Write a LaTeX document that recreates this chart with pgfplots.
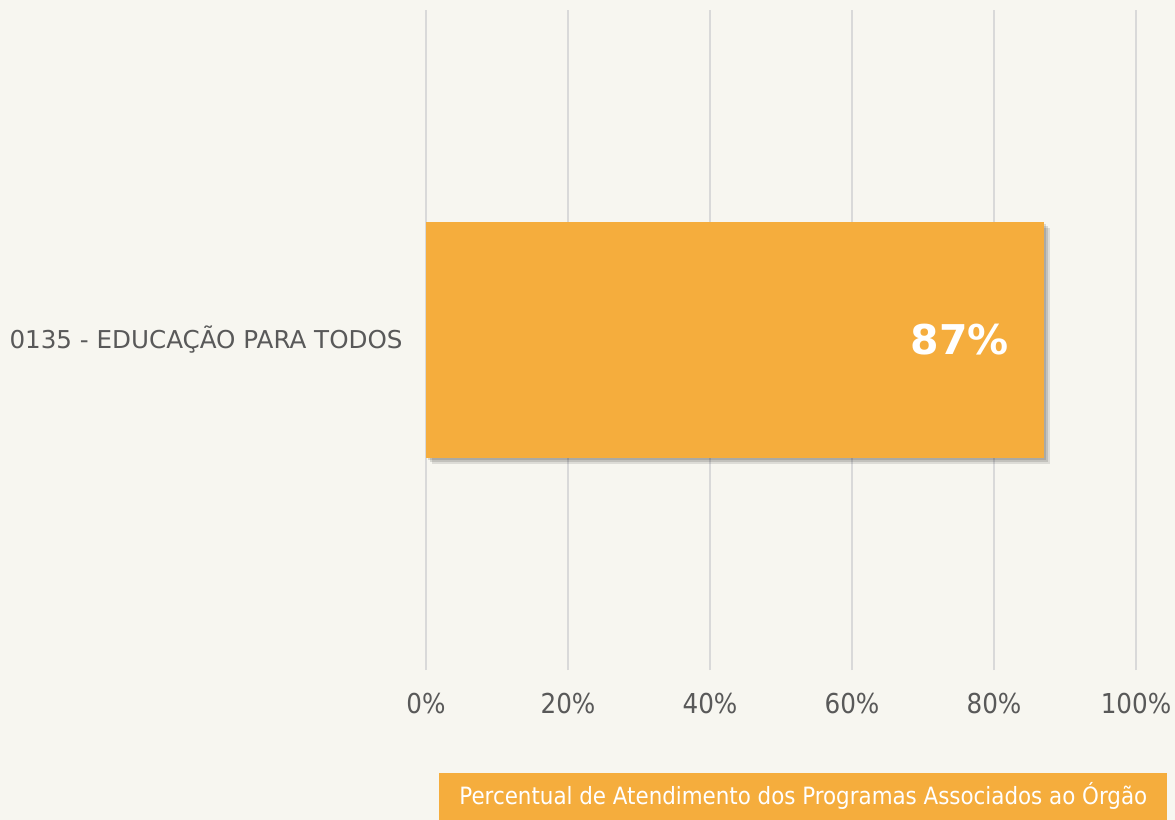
\documentclass[border=0pt]{standalone}
\usepackage{fontspec}
\setmainfont{DejaVu Sans}
\newfontfamily\cond{DejaVu Sans Condensed}
\usepackage{pgfplots}
\pgfplotsset{compat=1.18}
\definecolor{bgc}{HTML}{F7F6F0}
\definecolor{barc}{HTML}{F5AD3D}
\definecolor{gridc}{HTML}{D9D9D9}
\definecolor{txtc}{HTML}{595959}
\begin{document}
\begin{tikzpicture}
  % page background, 1 px = 0.5pt
  \fill[bgc] (0,0) rectangle (587.5pt,-410pt);
  \useasboundingbox (0,0) rectangle (587.5pt,-410pt);
  \begin{axis}[
      at={(213pt,-335pt)}, anchor=south west,
      scale only axis, width=355pt, height=330pt,
      xbar, bar width=118pt,
      xmin=0, xmax=100, ymin=-1, ymax=1,
      xtick={0,20,40,60,80,100},
      xticklabel={\pgfmathprintnumber{\tick}\%},
      xticklabel style={font=\cond\fontsize{13.7}{16}\selectfont, text=txtc, anchor=center, yshift=-17pt},
      ytick={0},
      yticklabels={0135 - EDUCAÇÃO PARA TODOS},
      yticklabel style={font=\fontsize{12.3}{15}\selectfont, text=txtc, inner sep=0pt, xshift=-11.5pt},
      /pgf/number format/assume math mode=true,
      major tick length=0pt,
      axis line style={draw=none},
      xmajorgrids=true,
      major grid style={gridc, line width=1pt},
      nodes near coords={\pgfmathprintnumber{\pgfplotspointmeta}\%},
      point meta=x,
      nodes near coords style={anchor=east, xshift=-14pt, text=white, font=\bfseries\fontsize{20.5}{24}\selectfont},
    ]
    \addplot[fill=barc, draw=none,
      preaction={fill=black, fill opacity=0.10, transform canvas={xshift=3pt, yshift=-3pt}},
      preaction={fill=black, fill opacity=0.12, transform canvas={xshift=2pt, yshift=-2pt}},
      preaction={fill=black, fill opacity=0.12, transform canvas={xshift=1pt, yshift=-1pt}}]
      coordinates {(87,0)};
  \end{axis}
  \node[fill=barc, text=white, inner sep=0pt, minimum width=364pt, minimum height=23.5pt,
        anchor=south west, font=\cond\fontsize{11.9}{14}\selectfont]
        at (219.5pt,-410pt) {Percentual de Atendimento dos Programas Associados ao Órgão};
\end{tikzpicture}
\end{document}
